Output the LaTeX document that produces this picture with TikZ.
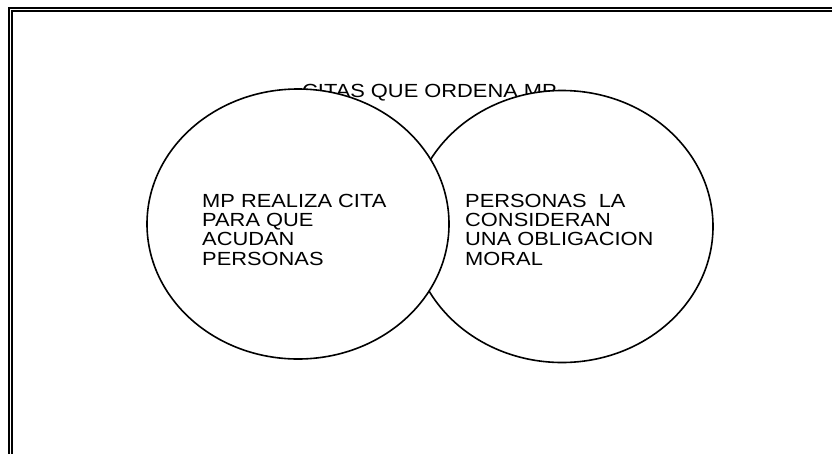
\documentclass[tikz,border=0pt]{standalone}
\usepackage{fontspec}
\setmainfont{Liberation Sans}
\newfontfamily\widefont[FakeStretch=1.15]{Liberation Sans}
\usetikzlibrary{shapes.geometric,positioning,calc}
\tikzset{
  % Set: white-filled ellipse, drawn over the caption
  setoval/.style={draw, ellipse, fill=white, line width=1.6pt,
                  minimum width=302pt, minimum height=270pt, inner sep=0pt},
  % Text inside a set: left-aligned block
  settext/.style={align=left, anchor=north west, inner sep=0pt,
                  font=\widefont\fontsize{19}{19.2}\selectfont},
  % Caption over the sets
  figcap/.style={anchor=base west, inner sep=0pt, font=\widefont\fontsize{19}{19.2}\selectfont},
  % Page frame: double rule
  framerule/.style={draw, line width=2pt}
}
\begin{document}
\begin{tikzpicture}[x=1pt, y=-1pt]
\clip (0,0) rectangle (832,453);

% ============== PAGE FRAME (only left and top edges on the page) ==============
\draw[framerule] (8.9,470) |- (850,7.9);
\draw[framerule] (11.9,470) |- (850,10.9);

% ============== CAPTION (partly hidden by the sets) ==============
\node[figcap] (cap) at (302,97) {CITAS QUE ORDENA MP};

% ============== SETS ==============
\node[setoval, minimum height=272pt] (moral) at (562,226.5) {};
\node[setoval] (cita) at (298,224) {};

\node[settext] (citatxt) at ($(cita.center)+(-96,-30)$)
  {MP REALIZA CITA\\PARA QUE\\ACUDAN\\PERSONAS};
\node[settext] (moraltxt) at ($(moral.center)+(-97,-32.5)$)
  {PERSONAS\ \ LA\\CONSIDERAN\\UNA OBLIGACION\\MORAL};

\end{tikzpicture}
\end{document}
